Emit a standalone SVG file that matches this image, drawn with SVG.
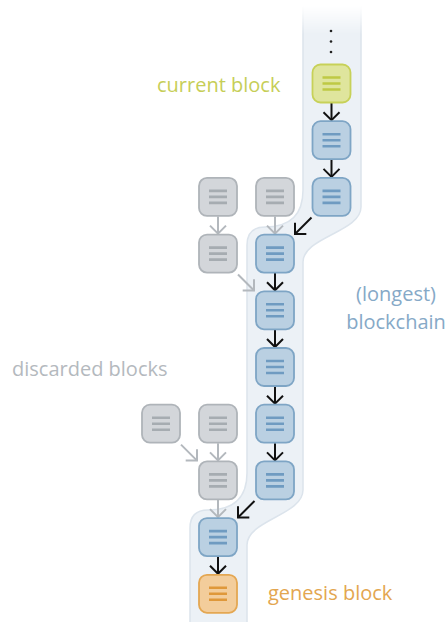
<svg xmlns="http://www.w3.org/2000/svg" width="447" height="622" viewBox="0 0 447 622">
<defs>
<style>
.blk rect.b{stroke-width:1.8}
.blk use{stroke-width:2.6;fill:none}
.blue rect.b{fill:#bad0e2;stroke:#7ea5c5}
.blue use{stroke:#6f9bc1}
.cur rect.b{fill:#dfe59d;stroke:#c7d158}
.cur use{stroke:#bfc944}
.grey rect.b{fill:#d3d6da;stroke:#afb4b9}
.grey use{stroke:#a6acb1}
.gen rect.b{fill:#f3cd9b;stroke:#e4a752}
.gen use{stroke:#df983a}
.ab{stroke:#111;stroke-width:2;fill:none}
.ag{stroke:#b3b8bd;stroke-width:2;fill:none}
text{font-family:"Open Sans","Noto Sans","DejaVu Sans",sans-serif;font-size:20px}
</style>
<marker id="mb" markerUnits="userSpaceOnUse" viewBox="-10 -10 12 20" refX="0" refY="0" markerWidth="12" markerHeight="20" orient="auto">
<path d="M-8,-8 L0,0 L-8,8" fill="none" stroke="#111" stroke-width="2"/>
</marker>
<marker id="mg" markerUnits="userSpaceOnUse" viewBox="-10 -10 12 20" refX="0" refY="0" markerWidth="12" markerHeight="20" orient="auto">
<path d="M-8,-8 L0,0 L-8,8" fill="none" stroke="#b3b8bd" stroke-width="2"/>
</marker>
<linearGradient id="fade" gradientUnits="userSpaceOnUse" x1="0" y1="6" x2="0" y2="34">
<stop offset="0" stop-color="#fff" stop-opacity="0"/>
<stop offset="1" stop-color="#fff" stop-opacity="1"/>
</linearGradient>
<mask id="m">
<rect x="0" y="0" width="447" height="622" fill="url(#fade)"/>
</mask>
<path id="lines" d="M-9,-6 H9 M-9,0 H9 M-9,6 H9"/>
</defs>

<g id="band" mask="url(#m)">
<path d="M303,6 H361 V207 C361,232 303,237 303,262 V490 C303,515 247,520 247,545 V626 H190 V528 Q190,510 208,510 C233,510 247,498 247,473 V245 Q247,227 265,227 C290,227 303,215 303,190 Z" fill="#ecf1f6" stroke="#dce4ec" stroke-width="1.5"/>
</g>

<g id="dots" fill="#222">
<circle cx="331" cy="31" r="1.3"/>
<circle cx="331" cy="41.5" r="1.3"/>
<circle cx="331" cy="52" r="1.3"/>
</g>

<g id="connectors">
<line class="ab" x1="331.5" y1="103" x2="331.5" y2="120.2" marker-end="url(#mb)"/>
<line class="ab" x1="331.5" y1="159.7" x2="331.5" y2="176.9" marker-end="url(#mb)"/>
<line class="ab" x1="311.5" y1="217.5" x2="295" y2="234" marker-end="url(#mb)"/>
<line class="ab" x1="275" y1="273.1" x2="275" y2="290.3" marker-end="url(#mb)"/>
<line class="ab" x1="275" y1="329.8" x2="275" y2="347" marker-end="url(#mb)"/>
<line class="ab" x1="275" y1="386.5" x2="275" y2="403.7" marker-end="url(#mb)"/>
<line class="ab" x1="275" y1="443.2" x2="275" y2="460.4" marker-end="url(#mb)"/>
<line class="ab" x1="254.5" y1="501" x2="238" y2="517.5" marker-end="url(#mb)"/>
<line class="ab" x1="218" y1="556.6" x2="218" y2="573.8" marker-end="url(#mb)"/>
<line class="ag" x1="218" y1="216.4" x2="218" y2="233.6" marker-end="url(#mg)"/>
<line class="ag" x1="275" y1="216.4" x2="275" y2="233.6" marker-end="url(#mg)"/>
<line class="ag" x1="238" y1="274.5" x2="254" y2="290.5" marker-end="url(#mg)"/>
<line class="ag" x1="181" y1="444.6" x2="197" y2="460.6" marker-end="url(#mg)"/>
<line class="ag" x1="218" y1="443.2" x2="218" y2="460.4" marker-end="url(#mg)"/>
<line class="ag" x1="218" y1="499.9" x2="218" y2="517.1" marker-end="url(#mg)"/>
</g>

<g id="current" class="blk cur" transform="translate(331.5,83.5)"><rect class="b" x="-19" y="-19" width="38" height="38" rx="8"/><use href="#lines"/></g>
<g id="b1" class="blk blue" transform="translate(331.5,140.2)"><rect class="b" x="-19" y="-19" width="38" height="38" rx="8"/><use href="#lines"/></g>
<g id="b2" class="blk blue" transform="translate(331.5,196.9)"><rect class="b" x="-19" y="-19" width="38" height="38" rx="8"/><use href="#lines"/></g>
<g id="b3" class="blk blue" transform="translate(275,253.6)"><rect class="b" x="-19" y="-19" width="38" height="38" rx="8"/><use href="#lines"/></g>
<g id="b4" class="blk blue" transform="translate(275,310.3)"><rect class="b" x="-19" y="-19" width="38" height="38" rx="8"/><use href="#lines"/></g>
<g id="b5" class="blk blue" transform="translate(275,367)"><rect class="b" x="-19" y="-19" width="38" height="38" rx="8"/><use href="#lines"/></g>
<g id="b6" class="blk blue" transform="translate(275,423.7)"><rect class="b" x="-19" y="-19" width="38" height="38" rx="8"/><use href="#lines"/></g>
<g id="b7" class="blk blue" transform="translate(275,480.4)"><rect class="b" x="-19" y="-19" width="38" height="38" rx="8"/><use href="#lines"/></g>
<g id="b8" class="blk blue" transform="translate(218,537.1)"><rect class="b" x="-19" y="-19" width="38" height="38" rx="8"/><use href="#lines"/></g>
<g id="genesis" class="blk gen" transform="translate(218,593.8)"><rect class="b" x="-19" y="-19" width="38" height="38" rx="8"/><use href="#lines"/></g>
<g id="g1" class="blk grey" transform="translate(218,196.9)"><rect class="b" x="-19" y="-19" width="38" height="38" rx="8"/><use href="#lines"/></g>
<g id="g2" class="blk grey" transform="translate(275,196.9)"><rect class="b" x="-19" y="-19" width="38" height="38" rx="8"/><use href="#lines"/></g>
<g id="g3" class="blk grey" transform="translate(218,253.6)"><rect class="b" x="-19" y="-19" width="38" height="38" rx="8"/><use href="#lines"/></g>
<g id="g4" class="blk grey" transform="translate(161,423.7)"><rect class="b" x="-19" y="-19" width="38" height="38" rx="8"/><use href="#lines"/></g>
<g id="g5" class="blk grey" transform="translate(218,423.7)"><rect class="b" x="-19" y="-19" width="38" height="38" rx="8"/><use href="#lines"/></g>
<g id="g6" class="blk grey" transform="translate(218,480.4)"><rect class="b" x="-19" y="-19" width="38" height="38" rx="8"/><use href="#lines"/></g>

<g id="labels">
<text x="396" y="301" fill="#86a9c7" text-anchor="middle">(longest)</text>
<text x="396" y="329" fill="#86a9c7" text-anchor="middle">blockchain</text>
<text x="157" y="92" fill="#c6ce57">current block</text>
<text x="12" y="376" fill="#b4b9be">discarded blocks</text>
<text x="268" y="600" fill="#e3a650">genesis block</text>
</g>
</svg>
